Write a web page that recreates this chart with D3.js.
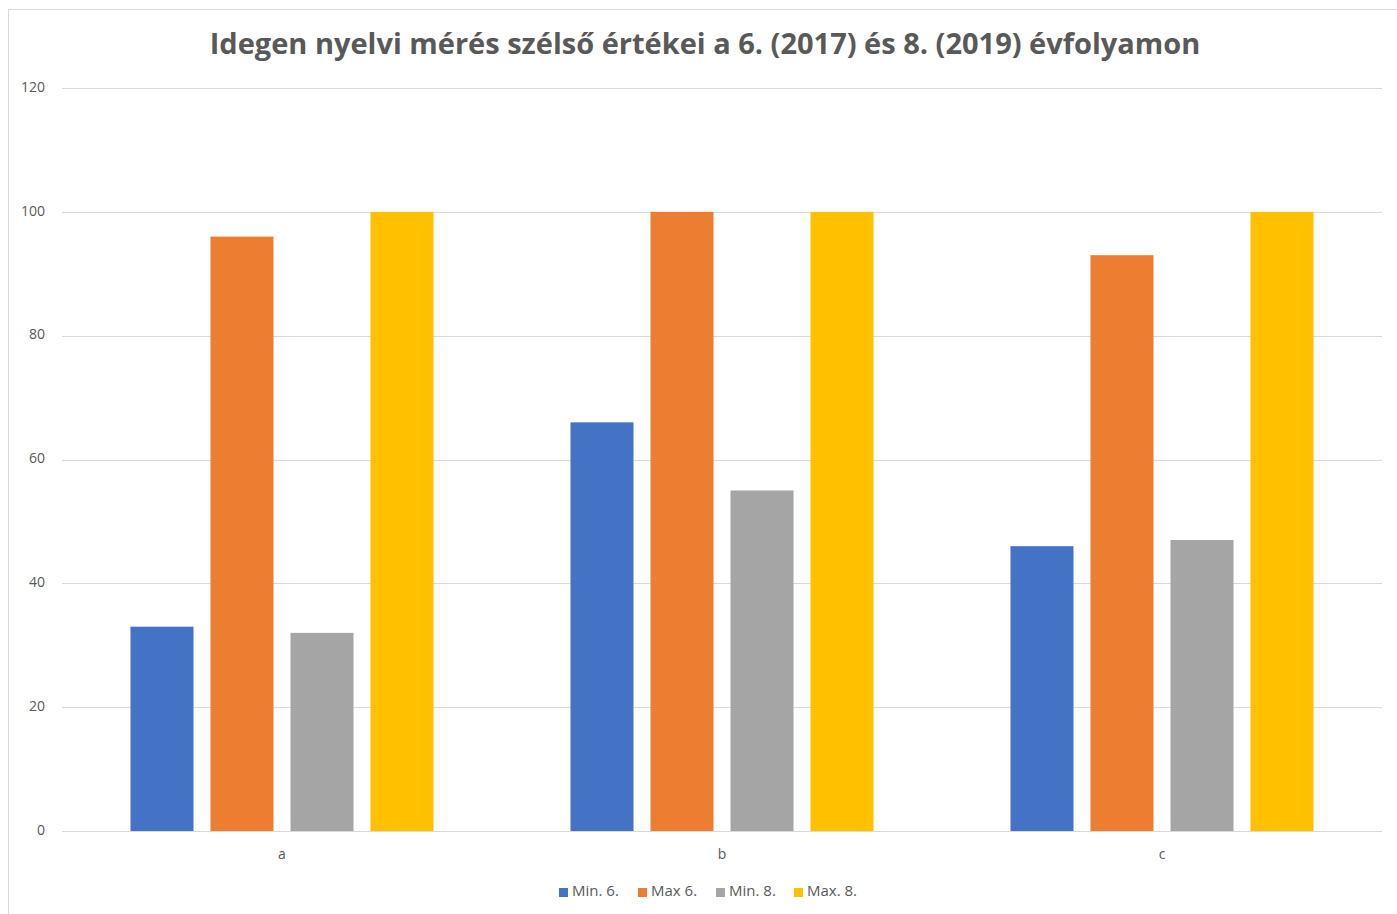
<!DOCTYPE html>
<html>
<head>
<meta charset="utf-8">
<script src="https://cdn.jsdelivr.net/npm/d3@7"></script>
<style>
	body { margin: 0; background: #fff; }
	text { font-family: "Open Sans", "Noto Sans", sans-serif; fill: #595959; }
</style>
</head>
<body>
<svg id="chart" width="1397" height="914"></svg>
<script>
// chart data
var categories = ["a", "b", "c"];
var seriesNames = ["Min. 6.", "Max 6.", "Min. 8.", "Max. 8."];
var seriesColors = ["#4472C4", "#ED7D31", "#A5A5A5", "#FFC000"];
var min6 = [33, 66, 46];
var max6 = [96, 100, 93];
var min8 = [32, 55, 47];
var max8 = [100, 100, 100];
var yTicks = [0, 20, 40, 60, 80, 100, 120];
var titleText = "Idegen nyelvi mérés szélső értékei a 6. (2017) és 8. (2019) évfolyamon";

var seriesValues = [min6, max6, min8, max8];

var svg = d3.select("#chart");

//outer chart frame
svg.append("rect")
	.attr("x", 8.5)
	.attr("y", 9.5)
	.attr("width", 1400)
	.attr("height", 920)
	.style("fill", "none")
	.style("stroke", "#d9d9d9");

var plotLeft = 62, plotRight = 1382, plotTop = 88, plotBottom = 831;

var x = d3.scaleBand()
	.domain(categories)
	.range([plotLeft, plotRight]);

var x1 = d3.scaleBand()
	.domain(seriesNames)
	.range([0, x.bandwidth()])
	.paddingInner(0.2125)
	.paddingOuter(0.856);

var y = d3.scaleLinear()
	.domain([0, 120])
	.range([plotBottom, plotTop]);

//gridlines
svg.append("g")
	.selectAll("line")
	.data(yTicks)
	.join("line")
	.attr("x1", plotLeft)
	.attr("x2", plotRight)
	.attr("y1", function(d){ return Math.round(y(d)) + 0.5; })
	.attr("y2", function(d){ return Math.round(y(d)) + 0.5; })
	.style("stroke", "#d9d9d9")
	.style("stroke-width", 1);

//y axis labels
svg.append("g")
	.selectAll("text")
	.data(yTicks)
	.join("text")
	.attr("x", 45)
	.attr("y", function(d){ return y(d); })
	.attr("text-anchor", "end")
	.attr("dominant-baseline", "middle")
	.style("font-size", "14px")
	.text(function(d){ return d; });

//bars
var rows = [];
categories.forEach(function(c, i){
	seriesNames.forEach(function(s, j){
		rows.push({cat: c, series: s, value: seriesValues[j][i], color: seriesColors[j]});
	});
});

svg.append("g")
	.selectAll("rect")
	.data(rows)
	.join("rect")
	.attr("x", function(d){ return x(d.cat) + x1(d.series); })
	.attr("y", function(d){ return y(d.value); })
	.attr("width", x1.bandwidth())
	.attr("height", function(d){ return y(0) - y(d.value); })
	.style("fill", function(d){ return d.color; });

//category labels
svg.append("g")
	.selectAll("text")
	.data(categories)
	.join("text")
	.attr("x", function(d){ return x(d) + x.bandwidth() / 2; })
	.attr("y", 855)
	.attr("text-anchor", "middle")
	.attr("dominant-baseline", "middle")
	.style("font-size", "14px")
	.text(function(d){ return d; });

//title
svg.append("text")
	.attr("x", 705)
	.attr("y", 46)
	.attr("text-anchor", "middle")
	.attr("dominant-baseline", "middle")
	.style("font-size", "29px")
	.style("font-weight", "bold")
	.text(titleText);

//legend
var legendX = [559, 638, 716, 794];
var legend = svg.append("g")
	.selectAll("g")
	.data(seriesNames)
	.join("g")
	.attr("transform", function(d, i){ return "translate(" + legendX[i] + ",892)"; });

legend.append("rect")
	.attr("x", 0)
	.attr("y", -4)
	.attr("width", 9)
	.attr("height", 9)
	.style("fill", function(d, i){ return seriesColors[i]; });

legend.append("text")
	.attr("x", 13)
	.attr("y", 0)
	.attr("dominant-baseline", "middle")
	.style("font-size", "15px")
	.text(function(d){ return d; });
</script>
</body>
</html>
